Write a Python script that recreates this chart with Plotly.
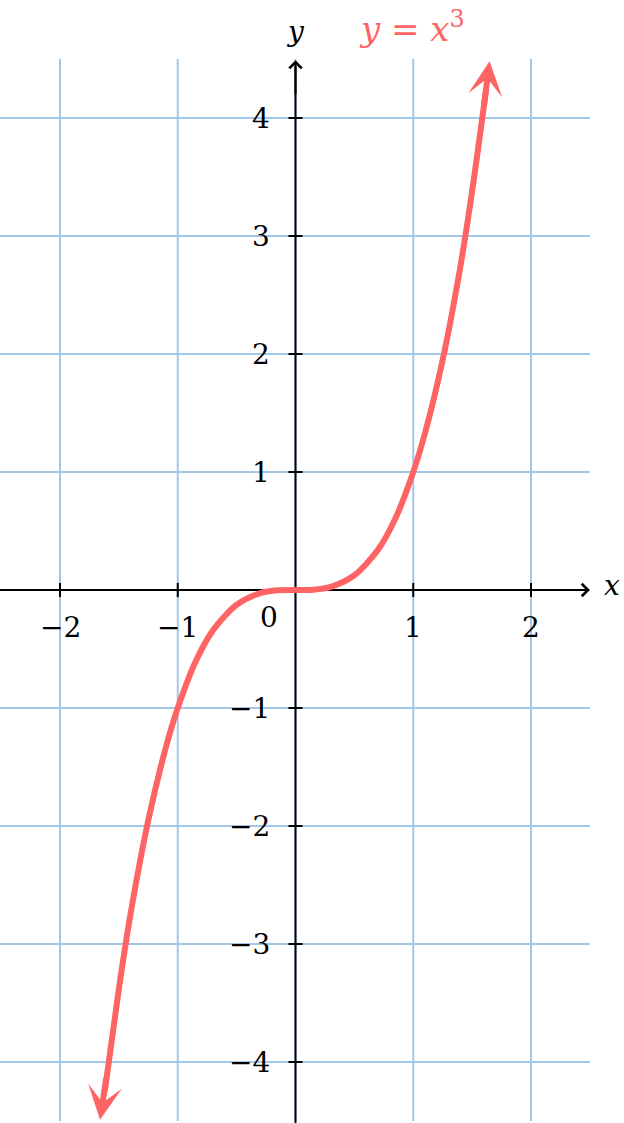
import plotly.graph_objects as go

# ---- data ----
x_ticks = [-2, -1, 1, 2]
x_tick_labels = ["−2", "−1", "1", "2"]
y_ticks = [-4, -3, -2, -1, 1, 2, 3, 4]
y_tick_labels = ["−4", "−3", "−2", "−1", "1", "2", "3", "4"]
grid_x = [-2, -1, 0, 1, 2]
grid_y = [-4, -3, -2, -1, 0, 1, 2, 3, 4]

curve_x = [-1.62, -1.5, -1.4, -1.25, -1.1, -1.0, -0.85, -0.7, -0.5, -0.3, -0.15, 0.0,
           0.15, 0.3, 0.5, 0.7, 0.85, 1.0, 1.1, 1.25, 1.4, 1.5, 1.62]
curve_y = [-4.25, -3.38, -2.74, -1.95, -1.33, -1.0, -0.61, -0.34, -0.125, -0.027, -0.003, 0.0,
           0.003, 0.027, 0.125, 0.34, 0.61, 1.0, 1.33, 1.95, 2.74, 3.38, 4.25]

curve_label = "<i>y</i> = <i>x</i><sup>3</sup>"

# ---- style ----
RED = "#ff6464"
GRID = "#a3c7e8"
FONT = "DejaVu Serif"
FS = 28

W, H = 624, 1123
CX, CY = 295.5, 590
SX, SY = 117.75, 118.0
XR = [-CX / SX, (W - CX) / SX]
YR = [-(H - CY) / SY, CY / SY]
XMIN, XMAX = -2.52, 2.5
YMIN, YMAX = -4.6, 4.49

fig = go.Figure()

fig.add_trace(go.Scatter(x=curve_x, y=curve_y, mode="lines",
                         line=dict(color=RED, width=6, shape="spline", smoothing=0.8),
                         hoverinfo="skip", showlegend=False))

shapes = []
for gx in grid_x:
    shapes.append(dict(type="line", xref="x", yref="y", x0=gx, x1=gx, y0=-4.5, y1=4.5,
                       line=dict(color=GRID, width=2), layer="below"))
for gy in grid_y:
    shapes.append(dict(type="line", xref="x", yref="y", x0=XMIN, x1=XMAX, y0=gy, y1=gy,
                       line=dict(color=GRID, width=2), layer="below"))
# axes lines
shapes.append(dict(type="line", xref="x", yref="y", x0=XMIN, x1=XMAX - 0.05, y0=0, y1=0,
                   line=dict(color="black", width=2), layer="below"))
shapes.append(dict(type="line", xref="x", yref="y", x0=0, x1=0, y0=YMIN, y1=YMAX - 0.05,
                   line=dict(color="black", width=2), layer="below"))
# tick marks
for tx in x_ticks:
    shapes.append(dict(type="line", xref="x", yref="y", x0=tx, x1=tx, y0=-0.06, y1=0.06,
                       line=dict(color="black", width=2)))
for ty in y_ticks:
    shapes.append(dict(type="line", xref="x", yref="y", x0=-0.06, x1=0.06, y0=ty, y1=ty,
                       line=dict(color="black", width=2)))

ann = []
# axis arrowheads
ann.append(dict(x=XMAX, y=0, ax=XMAX - 0.3, ay=0, xref="x", yref="y", axref="x", ayref="y",
                text="", showarrow=True, arrowhead=4, arrowsize=1.2, arrowwidth=2,
                arrowcolor="black"))
ann.append(dict(x=0, y=YMAX, ax=0, ay=YMAX - 0.3, xref="x", yref="y", axref="x", ayref="y",
                text="", showarrow=True, arrowhead=4, arrowsize=1.2, arrowwidth=2,
                arrowcolor="black"))
# curve arrowheads
ann.append(dict(x=1.648, y=4.48, ax=1.60, ay=4.10, xref="x", yref="y", axref="x", ayref="y",
                text="", showarrow=True, arrowhead=3, arrowsize=0.95, arrowwidth=6,
                arrowcolor=RED))
ann.append(dict(x=-1.66, y=-4.49, ax=-1.605, ay=-4.12, xref="x", yref="y", axref="x", ayref="y",
                text="", showarrow=True, arrowhead=3, arrowsize=0.95, arrowwidth=6,
                arrowcolor=RED))

tick_font = dict(family=FONT, size=FS, color="black")
for tx, lab in zip(x_ticks, x_tick_labels):
    ann.append(dict(x=tx, y=-0.32, xref="x", yref="y", text=lab, showarrow=False,
                    xanchor="center", yanchor="middle", font=tick_font))
for ty, lab in zip(y_ticks, y_tick_labels):
    ann.append(dict(x=-0.2, y=ty, xref="x", yref="y", text=lab, showarrow=False,
                    xanchor="right", yanchor="middle", font=tick_font))
ann.append(dict(x=-0.13, y=-0.23, xref="x", yref="y", text="0", showarrow=False,
                xanchor="right", yanchor="middle", font=tick_font))
ann.append(dict(x=0, y=4.73, xref="x", yref="y", text="<i>y</i>", showarrow=False,
                xanchor="center", yanchor="middle", font=tick_font))
ann.append(dict(x=2.69, y=0.04, xref="x", yref="y", text="<i>x</i>", showarrow=False,
                xanchor="center", yanchor="middle", font=tick_font))
ann.append(dict(x=0.99, y=4.77, xref="x", yref="y", text=curve_label, showarrow=False,
                xanchor="center", yanchor="middle", font=dict(family=FONT, size=34, color=RED)))

fig.update_layout(
    width=W, height=H,
    margin=dict(l=0, r=0, t=0, b=0),
    paper_bgcolor="white", plot_bgcolor="white",
    font=dict(family=FONT),
    xaxis=dict(range=XR, visible=False, fixedrange=True),
    yaxis=dict(range=YR, visible=False, fixedrange=True),
    shapes=shapes, annotations=ann, showlegend=False,
)

fig.write_html("out.html", config={"displayModeBar": False},
               post_script="document.body.style.margin='0';")
